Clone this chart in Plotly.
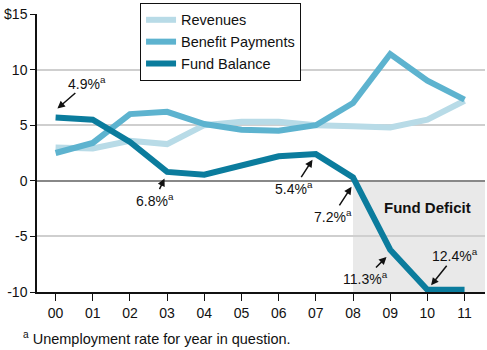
import plotly.graph_objects as go

years = ["00", "01", "02", "03", "04", "05", "06", "07", "08", "09", "10", "11"]
revenues = [3.0, 2.9, 3.6, 3.3, 5.0, 5.3, 5.3, 5.0, 4.9, 4.8, 5.5, 7.2]
benefit_payments = [2.5, 3.4, 6.0, 6.2, 5.1, 4.6, 4.5, 5.0, 7.0, 11.4, 9.0, 7.3]
fund_balance = [5.7, 5.5, 3.5, 0.8, 0.55, 1.4, 2.2, 2.4, 0.3, -6.2, -9.8, -9.8]
y_ticks = [-10, -5, 0, 5, 10, 15]
y_tick_labels = ["-10", "-5", "0", "5", "10", "$15"]

# unemployment annotations: arrow tip (x, y), label, text offset
unemp_points = [0.05, 2.93, 6.91, 7.96, 8.90, 10.1]
unemp_tip_y = [6.5, 0.2, 1.9, -0.54, -6.85, -9.4]
unemp_labels = ["4.9%", "6.8%", "5.4%", "7.2%", "11.3%", "12.4%"]
unemp_ax = [30, -10, -18, -19, -21, 24]
unemp_ay = [-26, 21, 28, 29, 21, -30]

x = list(range(len(years)))
FONT = "Liberation Sans, Arial, Helvetica, sans-serif"

fig = go.Figure()
fig.add_trace(go.Scatter(x=x, y=revenues, mode="lines", name="Revenues",
                         line=dict(color="#b8dbe7", width=6)))
fig.add_trace(go.Scatter(x=x, y=benefit_payments, mode="lines", name="Benefit Payments",
                         line=dict(color="#5db3cf", width=6)))
fig.add_trace(go.Scatter(x=x, y=fund_balance, mode="lines", name="Fund Balance",
                         line=dict(color="#0b7c9d", width=6)))

# Fund deficit shading
fig.add_shape(type="rect", xref="x", yref="y", x0=8, x1=11.55, y0=-10, y1=0,
              fillcolor="#e9e9e9", line=dict(width=0), layer="below")

fig.add_annotation(x=10.0, y=-2.4, xref="x", yref="y", text="<b>Fund Deficit</b>",
                   showarrow=False, font=dict(size=15, color="#111", family=FONT))

for px, py, lab, ax, ay in zip(unemp_points, unemp_tip_y, unemp_labels, unemp_ax, unemp_ay):
    fig.add_annotation(x=px, y=py, xref="x", yref="y", text=lab + "<sup>a</sup>",
                       showarrow=True, arrowhead=2, arrowsize=1, arrowwidth=1.5,
                       arrowcolor="#111", ax=ax, ay=ay,
                       font=dict(size=14, color="#111", family=FONT))

fig.add_annotation(x=0, y=-0.165, xref="paper", yref="paper", xshift=-16,
                   text="<sup>a</sup> Unemployment rate for year in question.",
                   showarrow=False, xanchor="left", yanchor="middle",
                   font=dict(size=14.5, color="#111", family=FONT))

fig.update_layout(
    width=487, height=350,
    margin=dict(l=37, r=2, t=14, b=58),
    paper_bgcolor="white", plot_bgcolor="white",
    font=dict(family=FONT, size=14, color="#111"),
    showlegend=True,
    legend=dict(x=0.23, y=1.04, xanchor="left", yanchor="top",
                bgcolor="white", bordercolor="#111", borderwidth=1,
                font=dict(size=14.5, family=FONT), itemwidth=30,
                tracegroupgap=0),
    xaxis=dict(range=[-0.5, 11.55], tickvals=x, ticktext=years,
               showgrid=False, zeroline=False, showline=True, linecolor="#111",
               linewidth=1.5, ticks="outside", ticklen=7, tickcolor="#111",
               tickfont=dict(size=14)),
    yaxis=dict(range=[-10, 15], tickvals=y_ticks, ticktext=y_tick_labels,
               showgrid=True, gridcolor="#cfcfcf", gridwidth=1.5,
               zeroline=True, zerolinecolor="#888", zerolinewidth=1.5,
               showline=True, linecolor="#111", linewidth=1.5,
               ticks="outside", ticklen=5, tickcolor="#111",
               tickfont=dict(size=14)),
)

fig.write_html("out.html")
